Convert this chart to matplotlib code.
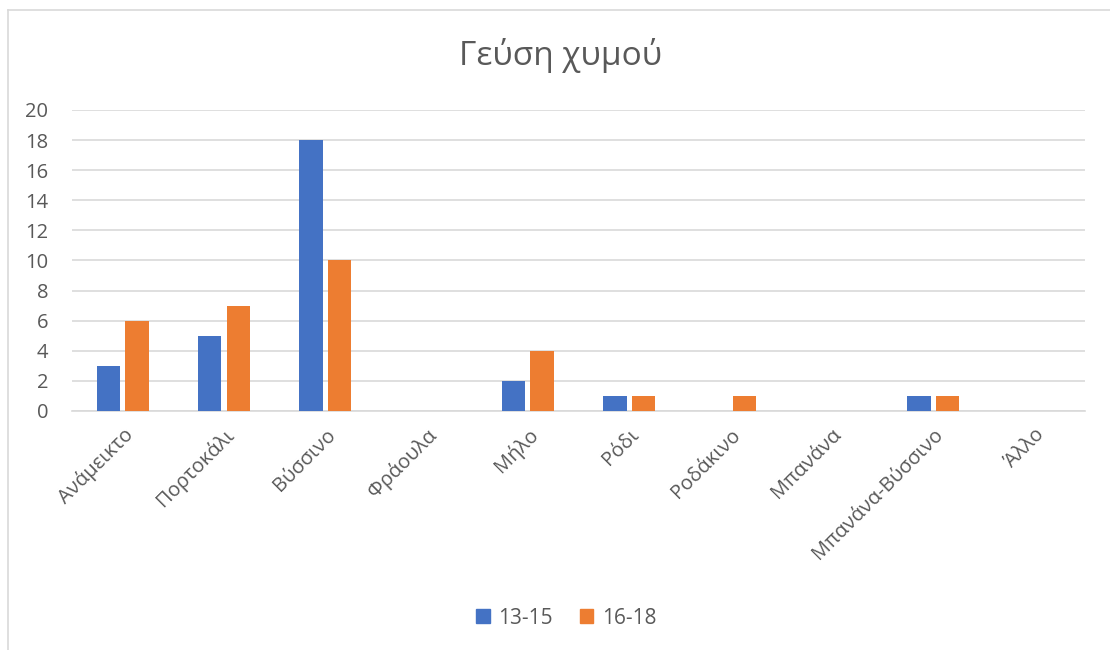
import matplotlib
matplotlib.use("Agg")
import matplotlib.pyplot as plt
import numpy as np
from matplotlib.patches import Patch
from matplotlib.lines import Line2D

categories = ["Ανάμεικτο", "Πορτοκάλι", "Βύσσινο", "Φράουλα", "Μήλο", "Ρόδι",
              "Ροδάκινο", "Μπανάνα", "Μπανάνα-Βύσσινο", "Άλλο"]
series_names = ["13-15", "16-18"]
values_13_15 = [3, 5, 18, 0, 2, 1, 0, 0, 1, 0]
values_16_18 = [6, 7, 10, 0, 4, 1, 1, 0, 1, 0]
yticks = [0, 2, 4, 6, 8, 10, 12, 14, 16, 18, 20]
title = "Γεύση χυμού"

plt.rcParams['font.family'] = ['Open Sans', 'DejaVu Sans']
txt = "#595959"
blue = "#4472C4"
orange = "#ED7D31"

fig = plt.figure(figsize=(11.1, 6.5), dpi=100)
ax = fig.add_axes([0.0649, 0.3677, 0.9126, 0.4631])

x = np.arange(len(categories))
w = 0.23
ax.bar(x - 0.14, values_13_15, w, color=blue, zorder=3)
ax.bar(x + 0.14, values_16_18, w, color=orange, zorder=3)

ax.set_xlim(-0.5, len(categories) - 0.5)
ax.set_ylim(0, 20)
ax.set_yticks(yticks)
ax.set_yticklabels([str(v) for v in yticks], fontsize=14.5, color=txt)
ax.yaxis.grid(True, color="#d9d9d9", lw=1.2, zorder=0)
for s in ["top", "right", "left"]:
    ax.spines[s].set_visible(False)
ax.spines["bottom"].set_color("#d9d9d9")
ax.spines["bottom"].set_linewidth(1.2)
ax.tick_params(axis="y", length=0, pad=17)
ax.tick_params(axis="x", length=0, pad=10)
ax.set_xticks(x)
ax.set_xticklabels(categories, rotation=45, ha="right", rotation_mode="anchor",
                   fontsize=14.5, color=txt)

fig.text(0.505, 0.915, title, ha="center", va="center", fontsize=24, color=txt)

handles = [Patch(color=blue), Patch(color=orange)]
fig.legend(handles, series_names, loc="center", bbox_to_anchor=(0.51, 0.049),
           ncol=2, frameon=False, fontsize=15, labelcolor=txt,
           handlelength=0.65, handleheight=0.65, handletextpad=0.4, columnspacing=1.3)

# chart frame
fig.add_artist(Line2D([8/1110, 8/1110], [0, 1 - 10/650], transform=fig.transFigure,
                      color="#d9d9d9", lw=1.2))
fig.add_artist(Line2D([8/1110, 1], [1 - 10/650, 1 - 10/650], transform=fig.transFigure,
                      color="#d9d9d9", lw=1.2))

fig.savefig("out.png", dpi=100, facecolor="white")
